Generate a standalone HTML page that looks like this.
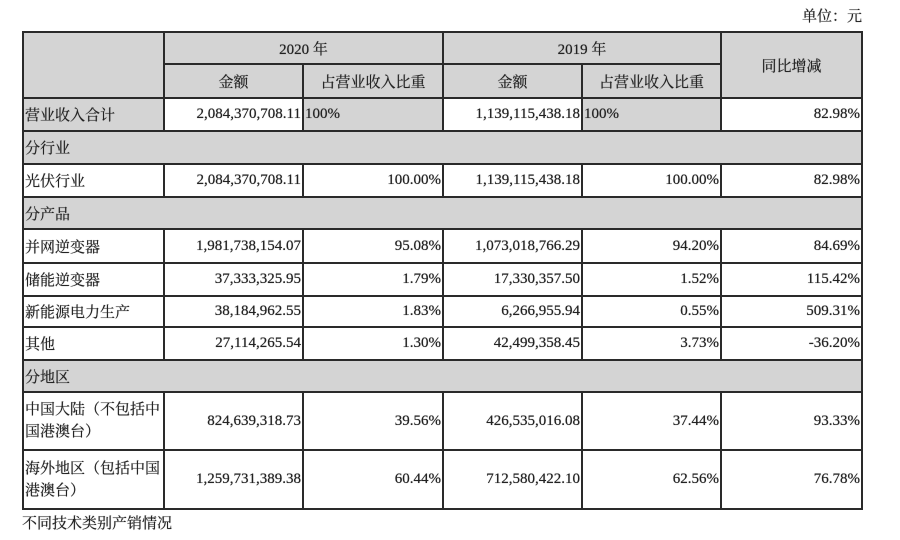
<!DOCTYPE html>
<html><head><meta charset="utf-8"><style>
body{margin:0;width:900px;height:540px;background:#fff;position:relative;font-family:"Liberation Serif","Noto Serif CJK SC",serif;font-size:15px;color:#222;overflow:hidden;text-shadow:0 0 0.6px #333}
table{position:absolute;left:22px;top:31px;border-collapse:collapse;table-layout:fixed}
td{border:2px solid #2a2a2a;padding:0 1px;white-space:nowrap;overflow:hidden}
.g{background:#d4d4d4}
.c{text-align:center}
.r{text-align:right}
.u{position:absolute;right:38px;top:5px}
.f{position:absolute;left:22px;top:512px}
</style></head><body>
<div class="u">单位：元</div>
<table>
<colgroup><col style="width:141px"><col style="width:139px"><col style="width:140px"><col style="width:139px"><col style="width:139px"><col style="width:141px"></colgroup>
<tr style="height:32px"><td class="g" rowspan="2"></td><td class="g c" colspan="2">2020 年</td><td class="g c" colspan="2">2019 年</td><td class="g c" rowspan="2">同比增减</td></tr>
<tr style="height:34px"><td class="g c">金额</td><td class="g c">占营业收入比重</td><td class="g c">金额</td><td class="g c">占营业收入比重</td></tr>
<tr style="height:33px"><td class="g">营业收入合计</td><td class="r">2,084,370,708.11</td><td class="g">100%</td><td class="r">1,139,115,438.18</td><td class="g">100%</td><td class="r">82.98%</td></tr>
<tr style="height:33px"><td class="g" colspan="6">分行业</td></tr>
<tr style="height:33px"><td>光伏行业</td><td class="r">2,084,370,708.11</td><td class="r">100.00%</td><td class="r">1,139,115,438.18</td><td class="r">100.00%</td><td class="r">82.98%</td></tr>
<tr style="height:32px"><td class="g" colspan="6">分产品</td></tr>
<tr style="height:34px"><td>并网逆变器</td><td class="r">1,981,738,154.07</td><td class="r">95.08%</td><td class="r">1,073,018,766.29</td><td class="r">94.20%</td><td class="r">84.69%</td></tr>
<tr style="height:33px"><td>储能逆变器</td><td class="r">37,333,325.95</td><td class="r">1.79%</td><td class="r">17,330,357.50</td><td class="r">1.52%</td><td class="r">115.42%</td></tr>
<tr style="height:31px"><td>新能源电力生产</td><td class="r">38,184,962.55</td><td class="r">1.83%</td><td class="r">6,266,955.94</td><td class="r">0.55%</td><td class="r">509.31%</td></tr>
<tr style="height:33px"><td>其他</td><td class="r">27,114,265.54</td><td class="r">1.30%</td><td class="r">42,499,358.45</td><td class="r">3.73%</td><td class="r">-36.20%</td></tr>
<tr style="height:32px"><td class="g" colspan="6">分地区</td></tr>
<tr style="height:58px"><td style="white-space:normal;line-height:22px">中国大陆（不包括中国港澳台）</td><td class="r">824,639,318.73</td><td class="r">39.56%</td><td class="r">426,535,016.08</td><td class="r">37.44%</td><td class="r">93.33%</td></tr>
<tr style="height:59px"><td style="white-space:normal;line-height:22px">海外地区（包括中国港澳台）</td><td class="r">1,259,731,389.38</td><td class="r">60.44%</td><td class="r">712,580,422.10</td><td class="r">62.56%</td><td class="r">76.78%</td></tr>
</table>
<div class="f">不同技术类别产销情况</div>
</body></html>
